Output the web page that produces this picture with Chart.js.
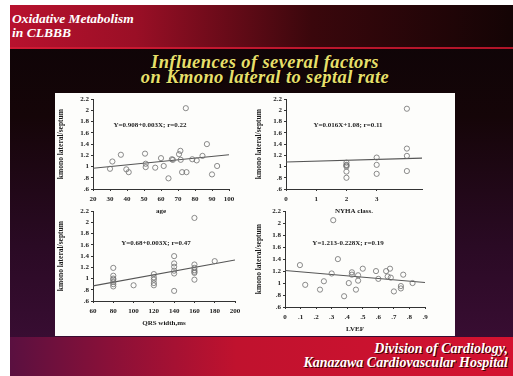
<!DOCTYPE html>
<html><head><meta charset="utf-8">
<script src="https://cdn.jsdelivr.net/npm/chart.js@4.4.0/dist/chart.umd.min.js"></script>
<style>
body{margin:0;width:513px;height:376px;background:#fff;position:relative;overflow:hidden;font-family:"Liberation Serif","DejaVu Serif",serif;}
#slide{position:absolute;left:10px;top:5px;width:503px;height:371px;background:linear-gradient(to bottom,#0c0406 0%,#150508 30%,#2a0a24 65%,#3e0e38 100%);}
#header{position:absolute;left:10px;top:5px;width:503px;height:43px;background:linear-gradient(to right,#b8122e 0%,#9a0f26 25%,#3a070c 60%,#140405 100%);}
#redline{position:absolute;left:10px;top:47px;width:503px;height:2px;background:linear-gradient(to right,#d01a34,#b01428);}
#htext{position:absolute;left:12px;top:12px;color:#fff;font-style:italic;font-weight:bold;font-size:13.5px;line-height:14px;}
#title{position:absolute;left:60px;width:410px;top:55px;text-align:center;color:#e6df6a;font-style:italic;font-weight:bold;font-size:18.5px;line-height:14.5px;letter-spacing:0.4px;text-shadow:1px 1px 0 #000;}
#panel{position:absolute;left:55px;top:93px;width:400px;height:243px;background:#fdfdfb;}
#footer{position:absolute;left:10px;top:337px;width:503px;height:39px;background:linear-gradient(to right,#5a1040 0%,#8a1038 20%,#c0122e 45%,#d41230 100%);}
#ftext{position:absolute;right:5px;top:342px;color:#fff;font-style:italic;font-weight:bold;font-size:14px;line-height:14px;text-align:right;text-shadow:1px 1px 0 #400;}
canvas{position:absolute;}
.eq{position:absolute;font-weight:bold;font-size:7px;color:#222;white-space:nowrap;transform:translateX(-50%);}
</style></head><body>
<div id="slide"></div>
<div id="header"></div>
<div id="redline"></div>
<div id="htext">Oxidative Metabolism<br>in CLBBB</div>
<div id="title">Influences of several factors<br>on Kmono lateral to septal rate</div>
<div id="panel"></div>
<div id="footer"></div>
<div id="ftext">Division of Cardiology,<br>Kanazawa Cardiovascular Hospital</div>
<canvas id="c1" width="195" height="122" style="left:57px;top:93px;width:195px;height:122px"></canvas>
<canvas id="c2" width="190" height="122" style="left:255px;top:93px;width:190px;height:122px"></canvas>
<canvas id="c3" width="195" height="122" style="left:57px;top:205px;width:195px;height:122px"></canvas>
<canvas id="c4" width="190" height="128" style="left:255px;top:205px;width:190px;height:128px"></canvas>
<div class="eq" style="left:150px;top:121px">Y=0.908+0.003X; r=0.22</div>
<div class="eq" style="left:348px;top:121px">Y=0.016X+1.08; r=0.11</div>
<div class="eq" style="left:156px;top:239px">Y=0.68+0.003X; r=0.47</div>
<div class="eq" style="left:348px;top:239px">Y=1.213-0.228X; r=0.19</div>
<script>
// ---- data ----
const ageX = [30,31.4,36.4,39.6,41,50.6,51,51,56.6,60,61.6,64.4,66.4,67,70.6,71.4,71.6,72.4,75,74.6,78.4,81,84.4,87,90,93];
const ageY = [0.96,1.09,1.21,0.95,0.90,1.23,1.05,0.99,0.98,1.15,1.01,0.79,1.13,1.12,1.22,1.28,1.12,0.90,0.90,2.04,1.13,1.11,1.19,1.40,0.86,1.01];
const ageLineX = [20,100];
const ageLineY = [0.97,1.21];

const nyhaX = [2,2,2,2,2,2,3,3,3,4,4,4,4];
const nyhaY = [1.07,1.03,1.02,1.00,0.91,0.80,1.16,1.03,0.87,2.03,1.32,1.19,0.92];
const nyhaLineX = [0,4.5];
const nyhaLineY = [1.08,1.15];

const qrsX = [80,80,80,80,80,80,80,100,120,120,120,120,120,140,140,140,140,140,140,160,160,160,160,160,160,160,180];
const qrsY = [1.19,1.05,1.00,0.98,0.94,0.90,0.86,0.88,1.08,1.02,0.98,0.92,0.88,1.40,1.27,1.21,1.14,1.09,0.78,2.08,1.25,1.19,1.15,1.12,1.10,0.98,1.31];
const qrsLineX = [60,200];
const qrsLineY = [0.87,1.33];

const lvefX = [0.096,0.13,0.225,0.25,0.30,0.31,0.34,0.38,0.41,0.43,0.43,0.456,0.47,0.47,0.50,0.585,0.60,0.65,0.66,0.675,0.68,0.70,0.745,0.745,0.76,0.82];
const lvefY = [1.30,0.97,0.89,1.03,1.16,2.05,1.40,0.78,1.00,1.18,1.14,0.89,1.13,1.04,1.24,1.20,1.07,1.20,1.11,1.24,1.09,0.86,0.91,0.95,1.14,1.00];
const lvefLineX = [0,0.9];
const lvefLineY = [1.21,1.01];

const yTitle = 'kmono lateral/septum';
const yMin = 0.6, yMax = 2.2, yStep = 0.2;

// ---- charts ----
Chart.defaults.font.family = '"Liberation Serif","DejaVu Serif",serif';
Chart.defaults.font.weight = 'bold';
Chart.defaults.color = '#1a1a1a';

function fmt(v){
  const r = Math.round(v*10)/10;
  if (r === 0) return '0';
  return String(r).replace(/^0\./,'.');
}
function zip(xs, ys){ return xs.map((x,i)=>({x:x,y:ys[i]})); }

function make(id, xs, ys, lx, ly, xmin, xmax, xstep, xTitle, d){
  const tickFont = {size:7, weight:'bold'};
  new Chart(document.getElementById(id), {
    type:'scatter',
    data:{datasets:[
      {data:zip(xs,ys), pointStyle:'circle', pointRadius:2.6, borderColor:'#6f6f6f', backgroundColor:'rgba(0,0,0,0)', borderWidth:0.8, showLine:false},
      {data:zip(lx,ly), showLine:true, pointRadius:0, borderColor:'#555', borderWidth:1.1, fill:false}
    ]},
    options:{
      responsive:false, animation:false, devicePixelRatio:1,
      layout:{padding:{top:d.top, right:d.right, left:0, bottom:0}},
      plugins:{legend:{display:false}, tooltip:{enabled:false}},
      scales:{
        x:{type:'linear', min:xmin, max:xmax,
          afterFit:s=>{s.height=d.xh;},
          afterBuildTicks:s=>{s.ticks = s.ticks.filter(t=>Math.abs(t.value/xstep - Math.round(t.value/xstep))<1e-6);},
          ticks:{stepSize:xstep, font:tickFont, padding:4, maxRotation:0, autoSkip:false, callback:v=>fmt(v)},
          grid:{drawOnChartArea:false, drawTicks:true, tickLength:2, color:'#333'},
          border:{display:true, color:'#333', width:1},
          title:{display:true, text:xTitle, font:{size:7, weight:'bold'}, padding:{top:1,bottom:0}}
        },
        y:{type:'linear', min:yMin, max:yMax,
          afterFit:s=>{s.width=d.yw;},
          ticks:{stepSize:yStep, font:tickFont, padding:2, autoSkip:false, callback:v=>fmt(v)},
          grid:{drawOnChartArea:false, drawTicks:true, tickLength:2, color:'#333'},
          border:{display:true, color:'#333', width:1},
          title:{display:true, text:yTitle, font:{size:7.5, weight:'bold'}, padding:{top:0,bottom:2}}
        }
      }
    }
  });
}

make('c1', ageX, ageY, ageLineX, ageLineY, 20, 100, 10, 'age', {yw:36, xh:26, top:4, right:23});
make('c2', nyhaX, nyhaY, nyhaLineX, nyhaLineY, 0, 4.5, 1, 'NYHA class.', {yw:31, xh:26, top:4, right:23});
make('c3', qrsX, qrsY, qrsLineX, qrsLineY, 60, 200, 20, 'QRS width,ms', {yw:36, xh:26, top:5, right:17});
make('c4', lvefX, lvefY, lvefLineX, lvefLineY, 0, 0.9, 0.1, 'LVEF', {yw:30, xh:26, top:5, right:20});
</script>
</body></html>
